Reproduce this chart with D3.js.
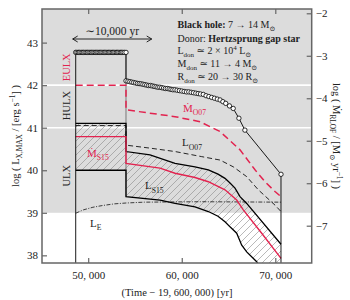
<!DOCTYPE html>
<html>
<head>
<meta charset="utf-8">
<script src="https://cdn.jsdelivr.net/npm/d3@7"></script>
<style>
  body { margin: 0; background: #fff; }
  svg { display: block; }
  text { font-family: "Liberation Serif", "DejaVu Serif", serif; fill: #222; }
</style>
</head>
<body>
<svg id="chart" width="350" height="300"></svg>
<script>
// ---- data ----
const xTicks = [50000, 60000, 70000];
const lTicks = [38, 39, 40, 41, 42, 43];
const mTicks = [-7, -6, -5, -4, -3, -2];
const ulxFloor = 39;            // grey band starts here
const bandLines = [41, 42];     // ULX / HULX / EULX borders
const tBreak = 54040;           // drop between the two phases

// hatched L_S15 band, upper and lower edge (left axis)
const s15UpT = [48664, 54040, 54040, 56606, 59279, 61417, 62838, 63875, 64623, 65158, 65692, 66227, 66943, 70609];
const s15UpV = [41.10, 41.10, 40.44, 40.36, 40.16, 40.08, 40.01, 39.91, 39.81, 39.70, 39.58, 39.38, 39.22, 38.26];
const s15LoT = [48664, 54040, 54040, 57675, 59279, 61417, 62838, 63875, 64623, 65158, 65874, 66409, 66943, 68012, 68700];
const s15LoV = [40.00, 40.00, 39.38, 39.30, 39.22, 39.14, 39.03, 38.92, 38.79, 38.67, 38.52, 38.24, 38.08, 37.85, 37.60];

// red solid Mdot_S15
const mS15T = [48664, 54040, 54040, 57675, 59279, 61417, 62838, 64623, 65874, 66580, 68546, 70609];
const mS15V = [40.79, 40.79, 40.16, 40.05, 39.93, 39.83, 39.73, 39.54, 39.30, 39.07, 38.52, 37.93];

// black dashed L_O07
const lO07T = [48664, 54040, 54040, 56606, 59279, 62133, 64089, 65511, 66943, 68183, 69968, 70609];
const lO07V = [41.05, 41.05, 40.59, 40.52, 40.44, 40.32, 40.24, 40.08, 39.85, 39.54, 39.18, 39.03];

// red dashed Mdot_O07
const mO07T = [48664, 54040, 54040, 59279, 61951, 64089, 66227, 67830, 68899, 69968, 70609];
const mO07V = [42.00, 42.00, 41.42, 41.26, 41.14, 40.91, 40.48, 40.01, 39.73, 39.50, 39.38];

// dash-dot Eddington luminosity L_E
const lET = [48664, 49500, 50500, 51500, 52800, 54040, 56000, 62000, 70609];
const lEV = [38.99, 39.07, 39.13, 39.17, 39.21, 39.23, 39.25, 39.26, 39.25];

// Mdot_RLOF simulation steps (right axis)
const rlofT = [48664, 48800, 48950, 49080, 49230, 49360, 49500, 49650, 49780, 49920, 50070, 50200, 50340, 50490,
  50620, 50760, 50910, 51040, 51180, 51330, 51460, 51600, 51750, 51880, 52020, 52170, 52300, 52440, 52590,
  52720, 52860, 53010, 53140, 53280, 53430, 53560, 53700, 53850, 54040,
  54040, 54250, 54450, 54650, 54850, 55050, 55250, 55450, 55650, 55850, 56050, 56250, 56450, 56650, 56850,
  57050, 57250, 57450, 57650, 57850, 58050, 58250, 58450, 58650, 58850, 59050, 59270, 59500, 59750, 60000,
  60250, 60500, 60750, 61000, 61250, 61500, 61750, 62000, 62300, 62600, 62900, 63200, 63500, 63800, 64100,
  64400, 64700, 65100, 65500, 66110, 66750, 70609];
const rlofV = [-2.92, -2.92, -2.92, -2.92, -2.92, -2.92, -2.92, -2.92, -2.92, -2.92, -2.92, -2.92, -2.92, -2.92,
  -2.92, -2.92, -2.92, -2.92, -2.92, -2.92, -2.92, -2.92, -2.92, -2.92, -2.92, -2.92, -2.92, -2.92, -2.92,
  -2.92, -2.92, -2.92, -2.92, -2.92, -2.92, -2.92, -2.92, -2.92, -2.92,
  -3.59, -3.60, -3.61, -3.62, -3.63, -3.64, -3.65, -3.655, -3.66, -3.67, -3.68, -3.69, -3.70, -3.70, -3.71,
  -3.72, -3.73, -3.74, -3.74, -3.75, -3.76, -3.77, -3.77, -3.78, -3.79, -3.80, -3.80, -3.81, -3.82, -3.83,
  -3.84, -3.85, -3.85, -3.86, -3.87, -3.88, -3.89, -3.90, -3.91, -3.94, -3.96, -3.98, -4.00, -4.02, -4.04,
  -4.08, -4.12, -4.18, -4.24, -4.47, -4.75, -5.79];
const offAxis = -9;   // track runs off the bottom before and after RLOF

// ---- layout ----
const svg = d3.select('#chart');
const plot = { left: 42, right: 311.7, top: 9, bottom: 263 };
const red = '#e2234f';
const frame = '#666';

const x = d3.scaleLinear().domain([45061, 73891]).range([plot.left, plot.right]);
const yL = d3.scaleLinear().domain([37.82, 43.79]).range([plot.bottom, plot.top]);
const yR = d3.scaleLinear().domain([-7.878, -1.899]).range([plot.bottom, plot.top]);

const pts = (ts, vs) => ts.map((t, i) => [t, vs[i]]);
const lineL = d3.line().x(d => x(d[0])).y(d => yL(d[1]));
const lineR = d3.line().x(d => x(d[0])).y(d => yR(d[1]));

const defs = svg.append('defs');
defs.append('clipPath').attr('id', 'clip').append('rect')
  .attr('x', plot.left).attr('y', plot.top)
  .attr('width', plot.right - plot.left).attr('height', plot.bottom - plot.top);
const hatch = defs.append('pattern').attr('id', 'hatch')
  .attr('patternUnits', 'userSpaceOnUse').attr('width', 7).attr('height', 7);
hatch.append('path').attr('d', 'M0,7 L7,0 M-1,1 L1,-1 M6,8 L8,6')
  .attr('stroke', '#8a8a8a').attr('stroke-width', 0.6);

const g = svg.append('g').attr('clip-path', 'url(#clip)');

// grey ULX band + white borders
g.append('rect')
  .attr('x', plot.left).attr('y', plot.top)
  .attr('width', plot.right - plot.left).attr('height', yL(ulxFloor) - plot.top)
  .attr('fill', '#dcdcdc');
g.selectAll('.band').data(bandLines).enter().append('line')
  .attr('x1', plot.left).attr('x2', plot.right)
  .attr('y1', d => yL(d)).attr('y2', d => yL(d))
  .attr('stroke', '#fff').attr('stroke-width', 1.6);

// hatched L_S15 region
const s15Up = pts(s15UpT, s15UpV);
const s15Lo = pts(s15LoT, s15LoV);
const lastLo = s15Lo[s15Lo.length - 1];
const poly = s15Up.concat([[s15UpT[s15UpT.length - 1], lastLo[1]]], s15Lo.slice().reverse());
g.append('path').attr('d', lineL(poly) + 'Z').attr('fill', 'url(#hatch)');

// phase break guide
g.append('line')
  .attr('x1', x(tBreak)).attr('x2', x(tBreak))
  .attr('y1', yR(rlofV[0])).attr('y2', yL(s15LoV[2]))
  .attr('stroke', '#777').attr('stroke-width', 1);

// Eddington
g.append('path').attr('d', lineL(pts(lET, lEV)))
  .attr('fill', 'none').attr('stroke', '#111').attr('stroke-width', 0.8)
  .attr('stroke-dasharray', '4,1.5,1,1.5');

// L_O07 dashed
g.append('path').attr('d', lineL(pts(lO07T, lO07V)))
  .attr('fill', 'none').attr('stroke', '#111').attr('stroke-width', 0.9)
  .attr('stroke-dasharray', '5,3');

// Mdot_O07 red dashed
g.append('path').attr('d', lineL(pts(mO07T, mO07V)))
  .attr('fill', 'none').attr('stroke', red).attr('stroke-width', 1.5)
  .attr('stroke-dasharray', '7,4');

// hatched band edges
[s15Up, s15Lo].forEach(p => {
  g.append('path').attr('d', lineL(p))
    .attr('fill', 'none').attr('stroke', '#000').attr('stroke-width', 1.3);
});

// Mdot_S15 red solid
g.append('path').attr('d', lineL(pts(mS15T, mS15V)))
  .attr('fill', 'none').attr('stroke', red).attr('stroke-width', 1.4);

// Mdot_RLOF track with circles
const rlof = pts(rlofT, rlofV);
const track = [[rlofT[0], offAxis]].concat(rlof, [[rlofT[rlofT.length - 1], offAxis]]);
g.append('path').attr('d', lineR(track))
  .attr('fill', 'none').attr('stroke', '#000').attr('stroke-width', 0.9);
g.selectAll('.step').data(rlof).enter().append('circle')
  .attr('cx', d => x(d[0])).attr('cy', d => yR(d[1])).attr('r', 2.2)
  .attr('fill', '#fff').attr('stroke', '#000').attr('stroke-width', 0.8);

// ---- rich text helper ----
function rich(sel, parts, size) {
  let shift = 0;
  parts.forEach(p => {
    const target = p.sub ? size * 0.3 : p.sup ? -size * 0.4 : 0;
    const ts = sel.append('tspan').text(p.t).attr('dy', target - shift);
    if (p.sub || p.sup) ts.attr('font-size', size * 0.7);
    if (p.b) ts.attr('font-weight', 'bold');
    shift = target;
  });
  return sel;
}

// series labels
const labels = [
  { t: 60134, v: 41.37, fill: red, parts: [{ t: 'Ṁ' }, { t: 'O07', sub: true }] },
  { t: 60027, v: 40.56, fill: '#222', parts: [{ t: 'L' }, { t: 'O07', sub: true }] },
  { t: 49872, v: 40.31, fill: red, parts: [{ t: 'Ṁ' }, { t: 'S15', sub: true }] },
  { t: 56072, v: 39.55, fill: '#222', parts: [{ t: 'L' }, { t: 'S15', sub: true }] },
  { t: 50192, v: 38.67, fill: '#222', parts: [{ t: 'L' }, { t: 'E', sub: true }] }
];
labels.forEach(l => {
  const el = svg.append('text').attr('x', x(l.t)).attr('y', yL(l.v))
    .attr('font-size', 11).style('fill', l.fill);
  rich(el, l.parts, 11);
});

// ULX classes
const classes = [
  { name: 'ULX', v: 39.87, fill: '#222' },
  { name: 'HULX', v: 41.52, fill: '#222' },
  { name: 'EULX', v: 42.42, fill: red }
];
classes.forEach(c => {
  svg.append('text')
    .attr('transform', `translate(${x(47520) + 4.5},${yL(c.v)}) rotate(-90)`)
    .attr('text-anchor', 'middle').attr('font-size', 10.5)
    .style('fill', c.fill).text(c.name);
});

// ~10,000 yr arrow
const arrowY = 39, a0 = x(48343), a1 = x(56788);
svg.append('path')
  .attr('d', `M${a0},${arrowY}H${a1}M${a0 + 5},${arrowY - 3}L${a0},${arrowY}L${a0 + 5},${arrowY + 3}` +
    `M${a1 - 5},${arrowY - 3}L${a1},${arrowY}L${a1 - 5},${arrowY + 3}`)
  .attr('fill', 'none').attr('stroke', '#111').attr('stroke-width', 0.9);
svg.append('text').attr('x', (a0 + a1) / 2).attr('y', 35)
  .attr('text-anchor', 'middle').attr('font-size', 11.5).text('∼10,000 yr');

// system info panel
const info = [
  [{ t: 'Black hole:', b: true }, { t: ' 7 → 14 M' }, { t: '⊙', sub: true }],
  [{ t: 'Donor: ' }, { t: 'Hertzsprung gap star', b: true }],
  [{ t: 'L' }, { t: 'don', sub: true }, { t: ' ≃ 2 × 10' }, { t: '4', sup: true }, { t: ' L' }, { t: '⊙', sub: true }],
  [{ t: 'M' }, { t: 'don', sub: true }, { t: ' ≃ 11 → 4 M' }, { t: '⊙', sub: true }],
  [{ t: 'R' }, { t: 'don', sub: true }, { t: ' ≃ 20 → 30 R' }, { t: '⊙', sub: true }]
];
const infoY = [28, 42, 54, 67, 80];
info.forEach((parts, i) => {
  const el = svg.append('text').attr('x', 177.5).attr('y', infoY[i]).attr('font-size', 10);
  rich(el, parts, 10);
});

// ---- frame and axes ----
svg.append('rect')
  .attr('x', plot.left).attr('y', plot.top)
  .attr('width', plot.right - plot.left).attr('height', plot.bottom - plot.top)
  .attr('fill', 'none').attr('stroke', frame).attr('stroke-width', 1.5);

const fmtX = d => d3.format(',')(d).replace(',', ', ');
const axes = [
  svg.append('g').attr('transform', `translate(0,${plot.bottom})`)
    .call(d3.axisBottom(x).tickValues(xTicks).tickSizeInner(-5).tickSizeOuter(0).tickPadding(8).tickFormat(fmtX)),
  svg.append('g').attr('transform', `translate(0,${plot.top})`)
    .call(d3.axisTop(x).tickValues(xTicks).tickSizeInner(-5).tickSizeOuter(0).tickFormat('')),
  svg.append('g').attr('transform', `translate(${plot.left},0)`)
    .call(d3.axisLeft(yL).tickValues(lTicks).tickSizeInner(-5).tickSizeOuter(0).tickPadding(4).tickFormat(d3.format('d'))),
  svg.append('g').attr('transform', `translate(${plot.right},0)`)
    .call(d3.axisRight(yR).tickValues(mTicks).tickSizeInner(-5).tickSizeOuter(0).tickPadding(4).tickFormat(d3.format('d')))
];
axes.forEach(a => {
  a.select('.domain').remove();
  a.selectAll('.tick line').attr('stroke', frame).attr('stroke-width', 1.2);
  a.selectAll('.tick text').attr('font-size', 11)
    .attr('font-family', '"Liberation Serif", "DejaVu Serif", serif').style('fill', '#222');
});

// axis titles
svg.append('text').attr('x', 177).attr('y', 296).attr('text-anchor', 'middle')
  .attr('font-size', 10.5).text('(Time − 19, 600, 000) [yr]');
rich(svg.append('text').attr('transform', 'translate(19,136) rotate(-90)')
  .attr('text-anchor', 'middle').attr('font-size', 10.5),
  [{ t: 'log ( L' }, { t: 'X,MAX', sub: true }, { t: ' / [erg s' }, { t: '−1', sup: true }, { t: '] )' }], 10.5);
rich(svg.append('text').attr('transform', 'translate(333,136) rotate(90)')
  .attr('text-anchor', 'middle').attr('font-size', 10.5),
  [{ t: 'log ( Ṁ' }, { t: 'RLOF', sub: true }, { t: ' / [M' }, { t: '⊙', sub: true }, { t: ' yr' }, { t: '−1', sup: true }, { t: '] )' }], 10.5);
</script>
</body>
</html>
